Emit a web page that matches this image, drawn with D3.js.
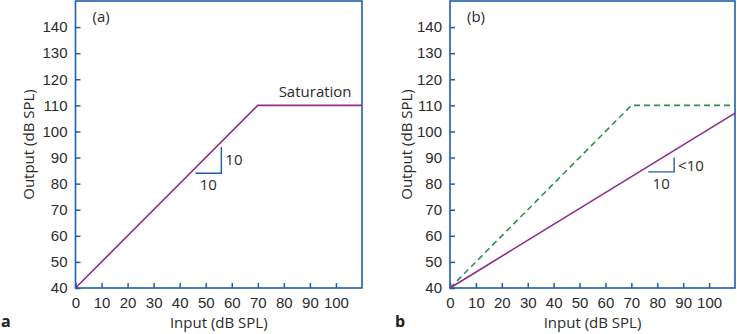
<!DOCTYPE html>
<html>
<head>
<meta charset="utf-8">
<script src="https://cdn.jsdelivr.net/npm/d3@7"></script>
<style>
  body { margin: 0; background: #fff; }
  svg { display: block; font-family: 'Open Sans', 'Liberation Sans', Arial, sans-serif; }
  .axis text { font-size: 15px; fill: #2b2b2b; }
  .axis line { stroke: #1f5ea8; stroke-width: 1.5px; }
  .lbl { font-size: 15px; fill: #2b2b2b; }
</style>
</head>
<body>
<svg id="chart" width="737" height="334"></svg>
<script>
'use strict';

// axes
var xTicks = [0, 10, 20, 30, 40, 50, 60, 70, 80, 90, 100];
var yTicks = [40, 50, 60, 70, 80, 90, 100, 110, 120, 130, 140];
var xDomain = [0, 110];
var yDomain = [40, 150];

// panel (a): linear gain with saturation
var linearInput = [0, 70, 110];
var linearOutput = [40, 110, 110];

// panel (b): compressed gain, linear gain shown dashed
var compInput = [0, 110];
var compOutput = [40, 107];

// slope triangles [x0, x1, y0, y1] and labels
var slopeA = [46, 56, 84, 94];
var slopeB = [76.5, 86.5, 84.5, 90];
var slopeLabelsA = ['10', '10'];
var slopeLabelsB = ['10', '<10'];

var blue = '#1f5ea8';
var purple = '#8e2b8f';
var green = '#2a9152';

var svg = d3.select('#chart');

function toPoints(xs, ys)
{
  return xs.map(function(x, i) { return [x, ys[i]]; });
}

function drawPanel(opts)
{
  var x = d3.scaleLinear().domain(xDomain).range([opts.left, opts.right]);
  var y = d3.scaleLinear().domain(yDomain).range([288, 1]);
  var g = svg.append('g');

  g.append('g')
    .attr('class', 'axis')
    .attr('transform', 'translate(0,' + y(40) + ')')
    .call(d3.axisBottom(x).tickValues(xTicks).tickSizeInner(-5).tickSizeOuter(0).tickPadding(9))
    .call(function(s) { s.select('.domain').remove(); });

  g.append('g')
    .attr('class', 'axis')
    .attr('transform', 'translate(' + x(0) + ',0)')
    .call(d3.axisLeft(y).tickValues(yTicks).tickSizeInner(-5).tickSizeOuter(0).tickPadding(opts.yPad))
    .call(function(s) { s.select('.domain').remove(); });

  // frame
  g.append('rect')
    .attr('x', x(0))
    .attr('y', y(150))
    .attr('width', x(110) - x(0))
    .attr('height', y(40) - y(150))
    .attr('fill', 'none')
    .attr('stroke', blue)
    .attr('stroke-width', 1.6);

  var line = d3.line().x(function(d) { return x(d[0]); }).y(function(d) { return y(d[1]); });

  opts.series.forEach(function(s) {
    g.append('path')
      .datum(s.points)
      .attr('d', line)
      .attr('fill', 'none')
      .attr('stroke', s.color)
      .attr('stroke-width', 1.6)
      .attr('stroke-dasharray', s.dash || null);
  });

  // slope triangle
  var t = opts.slope;
  g.append('path')
    .datum([[t[0], t[2]], [t[1], t[2]], [t[1], t[3]]])
    .attr('d', line)
    .attr('fill', 'none')
    .attr('stroke', blue)
    .attr('stroke-width', 1.4);

  g.append('text')
    .attr('class', 'lbl')
    .attr('x', (x(t[0]) + x(t[1])) / 2)
    .attr('y', y(t[2]) + 17)
    .attr('text-anchor', 'middle')
    .text(opts.slopeLabels[0]);

  g.append('text')
    .attr('class', 'lbl')
    .attr('x', x(t[1]) + 4)
    .attr('y', y(t[2]) - opts.riseDy)
    .text(opts.slopeLabels[1]);

  g.append('text')
    .attr('class', 'lbl')
    .attr('x', x(0) + 17)
    .attr('y', 22)
    .text(opts.title);

  g.append('text')
    .attr('class', 'lbl')
    .attr('x', (x(0) + x(110)) / 2)
    .attr('y', 328)
    .attr('text-anchor', 'middle')
    .text('Input (dB SPL)');

  g.append('text')
    .attr('class', 'lbl')
    .attr('transform', 'translate(' + opts.yLabelX + ',' + y(95) + ') rotate(-90)')
    .attr('text-anchor', 'middle')
    .text('Output (dB SPL)');

  g.append('text')
    .attr('x', opts.letterX)
    .attr('y', 327)
    .attr('font-size', 16)
    .attr('font-weight', 'bold')
    .attr('fill', '#222')
    .text(opts.letter);

  return {x: x, y: y, g: g};
}

var a = drawPanel({
  left: 75.5, right: 362, yPad: 8, yLabelX: 34, letter: 'a', letterX: 1, title: '(a)',
  series: [{points: toPoints(linearInput, linearOutput), color: purple}],
  slope: slopeA, slopeLabels: slopeLabelsA, riseDy: 8
});

a.g.append('text')
  .attr('class', 'lbl')
  .attr('x', a.x(106))
  .attr('y', a.y(110) - 8)
  .attr('text-anchor', 'end')
  .text('Saturation');

drawPanel({
  left: 450, right: 735, yPad: 8, yLabelX: 412, letter: 'b', letterX: 395, title: '(b)',
  series: [
    {points: toPoints(linearInput, linearOutput), color: green, dash: '6,4'},
    {points: toPoints(compInput, compOutput), color: purple}
  ],
  slope: slopeB, slopeLabels: slopeLabelsB, riseDy: 1
});
</script>
</body>
</html>
